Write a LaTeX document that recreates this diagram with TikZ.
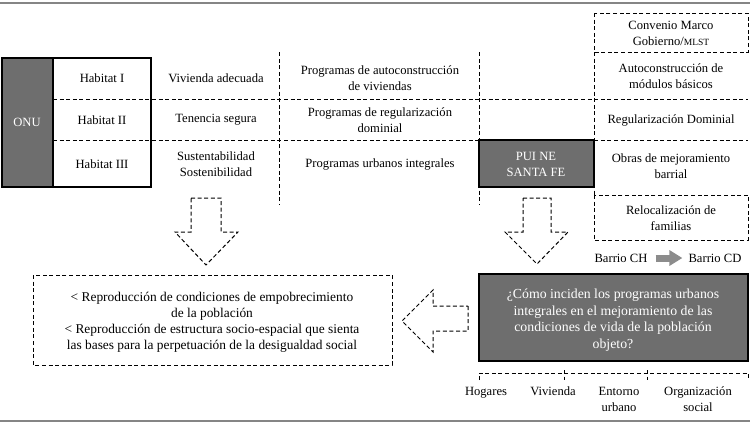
\documentclass[tikz,border=0pt]{standalone}
\usepackage{fontspec}
\setmainfont{Liberation Serif}
\usetikzlibrary{positioning,arrows.meta}
\definecolor{boxgray}{HTML}{6E6E6E}
\definecolor{rulegray}{HTML}{858585}
\definecolor{arrowgray}{HTML}{8C8C8C}

\begin{document}
\begin{tikzpicture}[x=1pt,y=-1pt,
  cell/.style={align=center,inner sep=0pt,font=\fontsize{12.6}{16}\selectfont},
  white cell/.style={cell,text=white},
  big cell/.style={align=center,inner sep=0pt,font=\fontsize{13.8}{16.5}\selectfont},
  dash line/.style={dash pattern=on 4pt off 2.6pt,line width=1pt},
  gray box/.style={draw=black,line width=1.5pt,fill=boxgray},
  rule line/.style={draw=rulegray,line width=1.8pt}]
\useasboundingbox (0,0) rectangle (750,424);
% rules top and bottom
\draw[rule line] (0,3) -- (750,3);
\draw[rule line] (0,421) -- (750,421);

% table grid
\draw[dash line] (53,99) -- (748,99);
\draw[dash line] (53,140) -- (748,140);
\draw[dash line] (279,52) -- (279,205);
\draw[dash line] (479,52) -- (479,205);
\draw[dash line] (594,13) rectangle (748,52);
\draw[dash line] (594,52) -- (594,195);
\draw[dash line] (594,195) rectangle (748,240);
\draw[gray box] (2,58) rectangle (53,187);
\draw[line width=1.5pt] (53,58) rectangle (151,187);
\draw[gray box] (479,140) rectangle (594,187);

\node[white cell] (onu) at (27,122) {ONU};
\node[cell] (hab1) at (102,78) {Habitat I};
\node[cell] (hab2) at (102,120) {Habitat II};
\node[cell] (hab3) at (102,164) {Habitat III};
\node[cell] (vivade) at (216,78) {Vivienda adecuada};
\node[cell] (tenencia) at (216,120) {Tenencia segura};
\node[cell] (susten) at (216,164) {Sustentabilidad\\Sostenibilidad};
\node[cell] (prog1) at (380,78) {Programas de autoconstrucción\\de viviendas};
\node[cell] (prog2) at (380,120) {Programas de regularización\\dominial};
\node[cell] (prog3) at (380,164) {Programas urbanos integrales};
\node[white cell] (pui) at (536,164) {PUI NE\\SANTA FE};
\node[cell] (convenio) at (671,33) {Convenio Marco\\Gobierno/{\fontsize{9.5}{16}\selectfont MLST}};
\node[cell] (automod) at (671,76) {Autoconstrucción de\\módulos básicos};
\node[cell] (regdom) at (671,120) {Regularización Dominial};
\node[cell] (obras) at (671,166) {Obras de mejoramiento\\barrial};
\node[cell] (reloc) at (671,218) {Relocalización de\\familias};

% block arrows
\draw[dash line] (191,198) -- (221,198) -- (221,232) -- (238,232) -- (206,265)
  -- (175,232) -- (191,232) -- cycle;
\draw[dash line] (523,198) -- (551,198) -- (551,232) -- (568,232) -- (537,264)
  -- (505,232) -- (523,232) -- cycle;
\draw[dash line] (468,306) -- (468,331) -- (433,331) -- (433,352) -- (402,321)
  -- (433,290) -- (433,306) -- cycle;

% result and question
\draw[dash line] (33,275) rectangle (392,365);
\node[big cell,font=\fontsize{13.4}{16}\selectfont] (result) at (212,322) {< Reproducción de condiciones de empobrecimiento\\de la población\\< Reproducción de estructura socio-espacial que sienta\\las bases para la perpetuación de la desigualdad social};
\draw[gray box] (479,274) rectangle (748,361);
\node[big cell,text=white] (question) at (613,320) {¿Cómo inciden los programas urbanos\\integrales en el mejoramiento de las\\condiciones de vida de la población\\objeto?};

\node[cell] (barrioch) at (621,258) {Barrio CH};
\node[cell] (barriocd) at (715,258) {Barrio CD};
\draw[arrowgray,line width=7pt,-{Triangle[length=13pt,width=15pt]},shorten <=8pt,shorten >=6pt]
  (barrioch.east) -- (barriocd.west);

% dimensions
\draw[dash line] (479,380) -- (479,373) -- (748,373) -- (748,380);
\foreach \x in {564,647}
  \draw[dash line] (\x,370) -- (\x,380);
\node[cell,anchor=north] (hogares) at (486,387) {Hogares};
\node[cell,anchor=north] (vivienda) at (553,387) {Vivienda};
\node[cell,anchor=north] (entorno) at (619,387) {Entorno\\urbano};
\node[cell,anchor=north] (organiz) at (698,387) {Organización\\social};
\end{tikzpicture}
\end{document}
